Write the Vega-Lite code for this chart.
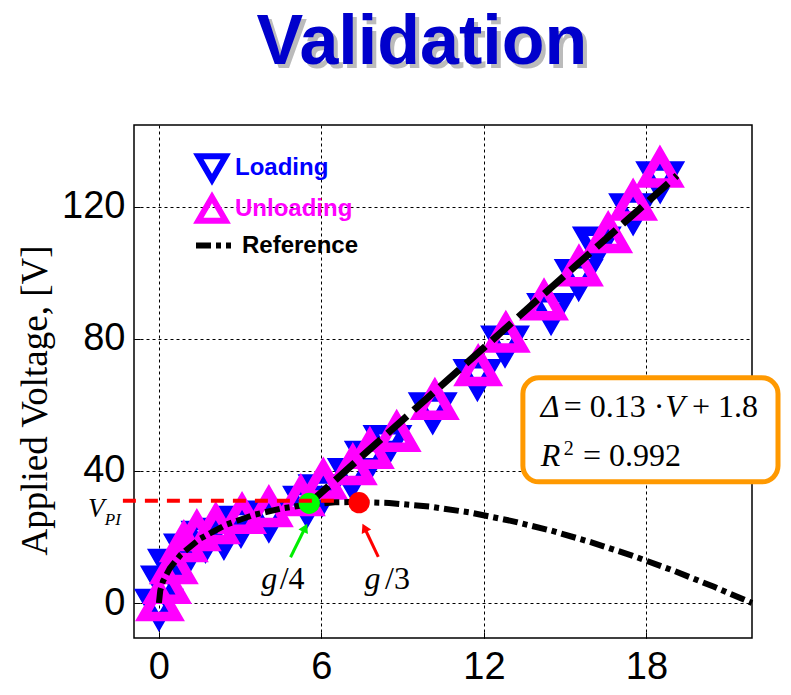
{
  "$schema": "https://vega.github.io/schema/vega-lite/v6.json",
  "width": 618,
  "height": 513,
  "autosize": {"type": "none"},
  "padding": {"left": 134, "top": 125, "right": 39, "bottom": 57},
  "background": "white",
  "config": {
    "view": {"stroke": "black", "strokeWidth": 1.5},
    "axis": {
      "grid": true, "gridColor": "black", "gridDash": [3, 3], "gridWidth": 1, "gridOpacity": 1,
      "domain": false, "ticks": true, "tickColor": "black", "tickSize": -6, "tickWidth": 1,
      "labelFont": "Liberation Sans", "labelFontSize": 38, "labelColor": "black"
    }
  },
  "datasets": {
    "meas": [
      {"series": "Loading", "d": 0.0, "v": -1.5},
      {"series": "Loading", "d": 0.22, "v": 5.5},
      {"series": "Loading", "d": 0.48, "v": 10.6},
      {"series": "Loading", "d": 1.07, "v": 15.2},
      {"series": "Loading", "d": 1.72, "v": 19.1},
      {"series": "Loading", "d": 2.4, "v": 20.0},
      {"series": "Loading", "d": 3.03, "v": 23.6},
      {"series": "Loading", "d": 4.06, "v": 25.2},
      {"series": "Loading", "d": 5.47, "v": 29.7},
      {"series": "Loading", "d": 6.04, "v": 33.2},
      {"series": "Loading", "d": 7.12, "v": 38.1},
      {"series": "Loading", "d": 7.75, "v": 43.3},
      {"series": "Loading", "d": 8.44, "v": 48.1},
      {"series": "Loading", "d": 10.11, "v": 58.0},
      {"series": "Loading", "d": 11.76, "v": 68.1},
      {"series": "Loading", "d": 12.78, "v": 78.2},
      {"series": "Loading", "d": 14.48, "v": 88.1},
      {"series": "Loading", "d": 15.5, "v": 98.4},
      {"series": "Loading", "d": 16.17, "v": 108.2},
      {"series": "Loading", "d": 17.51, "v": 118.3},
      {"series": "Loading", "d": 18.51, "v": 128.0},
      {"series": "Unloading", "d": 0.04, "v": 0.3},
      {"series": "Unloading", "d": 0.3, "v": 5.5},
      {"series": "Unloading", "d": 0.55, "v": 11.5},
      {"series": "Unloading", "d": 0.92, "v": 18.2},
      {"series": "Unloading", "d": 1.4, "v": 21.5},
      {"series": "Unloading", "d": 2.1, "v": 23.6},
      {"series": "Unloading", "d": 3.07, "v": 26.7},
      {"series": "Unloading", "d": 4.06, "v": 28.8},
      {"series": "Unloading", "d": 5.24, "v": 32.1},
      {"series": "Unloading", "d": 6.07, "v": 37.1},
      {"series": "Unloading", "d": 7.16, "v": 41.5},
      {"series": "Unloading", "d": 7.79, "v": 46.4},
      {"series": "Unloading", "d": 8.78, "v": 51.6},
      {"series": "Unloading", "d": 10.19, "v": 61.3},
      {"series": "Unloading", "d": 11.79, "v": 71.5},
      {"series": "Unloading", "d": 12.81, "v": 81.6},
      {"series": "Unloading", "d": 14.22, "v": 91.4},
      {"series": "Unloading", "d": 15.51, "v": 101.7},
      {"series": "Unloading", "d": 16.59, "v": 111.8},
      {"series": "Unloading", "d": 17.51, "v": 121.6},
      {"series": "Unloading", "d": 18.5, "v": 131.6}
    ],
    "ref": [
      {"name": "Reference", "d": 0.0, "v": 0.0},
      {"name": "Reference", "d": 0.05, "v": 3.8},
      {"name": "Reference", "d": 0.15, "v": 6.6},
      {"name": "Reference", "d": 0.4, "v": 10.5},
      {"name": "Reference", "d": 0.8, "v": 14.6},
      {"name": "Reference", "d": 1.5, "v": 19.4},
      {"name": "Reference", "d": 2.5, "v": 23.8},
      {"name": "Reference", "d": 3.5, "v": 26.7},
      {"name": "Reference", "d": 4.5, "v": 28.6},
      {"name": "Reference", "d": 5.5, "v": 29.8},
      {"name": "Reference", "d": 6.5, "v": 30.5},
      {"name": "Reference", "d": 7.3, "v": 30.6},
      {"name": "Reference", "d": 8.5, "v": 30.3},
      {"name": "Reference", "d": 10.0, "v": 29.2},
      {"name": "Reference", "d": 11.5, "v": 27.4},
      {"name": "Reference", "d": 13.0, "v": 24.9},
      {"name": "Reference", "d": 14.5, "v": 21.9},
      {"name": "Reference", "d": 16.0, "v": 18.3},
      {"name": "Reference", "d": 17.5, "v": 14.3},
      {"name": "Reference", "d": 19.0, "v": 9.8},
      {"name": "Reference", "d": 20.5, "v": 4.9},
      {"name": "Reference", "d": 21.9, "v": 0.0}
    ],
    "fit": [
      {"d": 5.55, "v": 30.2},
      {"d": 19.13, "v": 129.5}
    ]
  },
  "encoding": {
    "x": {
      "field": "d", "type": "quantitative",
      "scale": {"domain": [-0.92, 21.9], "nice": false, "zero": false},
      "axis": {"values": [0, 6, 12, 18], "title": null, "labelPadding": 16}
    },
    "y": {
      "field": "v", "type": "quantitative",
      "scale": {"domain": [-10.6, 144.8], "nice": false, "zero": false},
      "axis": {
        "values": [0, 40, 80, 120], "labelPadding": 15,
        "title": "Applied Voltage, [V]", "titleFont": "Liberation Serif", "titleFontSize": 37,
        "titleFontWeight": "normal", "titleColor": "black",
        "titleX": -99, "titleY": 275, "titleAngle": -90, "titleAlign": "center", "titleBaseline": "middle"
      }
    }
  },
  "layer": [
    {
      "data": {"name": "meas"},
      "mark": {"type": "point", "filled": false, "size": 1120, "strokeWidth": 9.5, "opacity": 1},
      "encoding": {
        "color": {
          "field": "series", "type": "nominal",
          "scale": {"domain": ["Loading", "Unloading"], "range": ["#0000FF", "#FF00FF"]},
          "legend": {
            "title": null, "orient": "none", "legendX": 61, "legendY": 26, "padding": 0,
            "symbolSize": 750, "symbolStrokeWidth": 6, "symbolOpacity": 1,
            "labelFont": "Liberation Sans", "labelFontWeight": "bold", "labelFontSize": 24,
            "labelColor": {"expr": "datum.value === 'Loading' ? '#0000FF' : '#FF00FF'"},
            "labelOffset": 6, "rowPadding": -11
          }
        },
        "shape": {
          "field": "series", "type": "nominal",
          "scale": {"domain": ["Loading", "Unloading"], "range": ["triangle-down", "triangle-up"]},
          "legend": {
            "title": null, "orient": "none", "legendX": 61, "legendY": 26, "padding": 0,
            "symbolSize": 750, "symbolStrokeWidth": 6, "symbolOpacity": 1,
            "labelFont": "Liberation Sans", "labelFontWeight": "bold", "labelFontSize": 24,
            "labelColor": {"expr": "datum.value === 'Loading' ? '#0000FF' : '#FF00FF'"},
            "labelOffset": 6, "rowPadding": -11
          }
        }
      }
    },
    {
      "data": {"name": "ref"},
      "mark": {"type": "line", "color": "black", "strokeWidth": 6},
      "encoding": {
        "strokeDash": {
          "field": "name", "type": "nominal",
          "scale": {"domain": ["Reference"], "range": [[15, 5, 5, 5]]},
          "legend": {
            "title": null, "orient": "none", "legendX": 59, "legendY": 100, "padding": 0,
            "symbolType": "stroke", "symbolSize": 1225, "symbolStrokeWidth": 6, "symbolStrokeColor": "black",
            "labelFont": "Liberation Sans", "labelFontWeight": "bold", "labelFontSize": 24,
            "labelColor": "black", "labelOffset": 8
          }
        }
      }
    },
    {
      "data": {"name": "fit"},
      "mark": {"type": "line", "color": "black", "strokeWidth": 7, "strokeDash": [26, 9]},
      "encoding": {}
    },
    {
      "data": {"values": [{"d": 5.55, "v": 30.2}]},
      "mark": {"type": "circle", "color": "#00FF00", "size": 452, "opacity": 1},
      "encoding": {}
    },
    {
      "data": {"values": [{"d": 7.39, "v": 30.4}]},
      "mark": {"type": "circle", "color": "#FF0000", "size": 452, "opacity": 1},
      "encoding": {}
    },
    {
      "data": {"values": [{"d": -1.33, "d2": 6.68, "v": 31.0}]},
      "mark": {"type": "rule", "color": "#FF0000", "strokeWidth": 4, "strokeDash": [13, 9]},
      "encoding": {"x2": {"field": "d2"}}
    },
    {
      "data": {"values": [{"d": 4.86, "v": 13.85, "d2": 5.4, "v2": 22.8}]},
      "mark": {"type": "rule", "color": "#00EE00", "strokeWidth": 3},
      "encoding": {"x2": {"field": "d2"}, "y2": {"field": "v2"}}
    },
    {
      "data": {"values": [{"d": 5.4, "v": 22.8}]},
      "mark": {"type": "point", "shape": "triangle-up", "filled": true, "color": "#00EE00", "size": 110, "angle": 26, "opacity": 1},
      "encoding": {}
    },
    {
      "data": {"values": [{"d": 8.1, "v": 14.0, "d2": 7.59, "v2": 22.8}]},
      "mark": {"type": "rule", "color": "#FF0000", "strokeWidth": 3},
      "encoding": {"x2": {"field": "d2"}, "y2": {"field": "v2"}}
    },
    {
      "data": {"values": [{"d": 7.59, "v": 22.8}]},
      "mark": {"type": "point", "shape": "triangle-up", "filled": true, "color": "#FF0000", "size": 110, "angle": -26, "opacity": 1},
      "encoding": {}
    },
    {
      "data": {"values": [{"d": 13.44, "d2": 22.86, "v": 68.2, "v2": 36.7}]},
      "mark": {"type": "rect", "fill": "white", "stroke": "#FF9900", "strokeWidth": 5, "cornerRadius": 16},
      "encoding": {"x2": {"field": "d2"}, "y2": {"field": "v2"}}
    },
    {
      "data": {"values": [
        {"t": "Δ", "d": 14.1, "v": 56.4},
        {"t": "V", "d": 18.7, "v": 56.4},
        {"t": "R", "d": 14.1, "v": 41.5}
      ]},
      "mark": {"type": "text", "font": "Liberation Serif", "fontStyle": "italic", "fontSize": 32, "align": "left", "baseline": "alphabetic", "color": "black"},
      "encoding": {"text": {"field": "t"}}
    },
    {
      "data": {"values": [
        {"t": "= 0.13 ·", "d": 14.95, "v": 56.4},
        {"t": "+ 1.8", "d": 19.68, "v": 56.4},
        {"t": "= 0.992", "d": 15.66, "v": 41.5}
      ]},
      "mark": {"type": "text", "font": "Liberation Serif", "fontSize": 32, "align": "left", "baseline": "alphabetic", "color": "black"},
      "encoding": {"text": {"field": "t"}}
    },
    {
      "data": {"values": [{"t": "2", "d": 14.95, "v": 44.8}]},
      "mark": {"type": "text", "font": "Liberation Serif", "fontSize": 20, "align": "left", "baseline": "alphabetic", "color": "black"},
      "encoding": {"text": {"field": "t"}}
    },
    {
      "data": {"values": [
        {"t": "g", "d": 3.78, "v": 4.1},
        {"t": "g", "d": 7.59, "v": 4.1}
      ]},
      "mark": {"type": "text", "font": "Liberation Serif", "fontStyle": "italic", "fontSize": 32, "align": "left", "baseline": "alphabetic", "color": "black"},
      "encoding": {"text": {"field": "t"}}
    },
    {
      "data": {"values": [
        {"t": "/4", "d": 4.46, "v": 4.1},
        {"t": "/3", "d": 8.35, "v": 4.1}
      ]},
      "mark": {"type": "text", "font": "Liberation Serif", "fontSize": 32, "align": "left", "baseline": "alphabetic", "color": "black"},
      "encoding": {"text": {"field": "t"}}
    },
    {
      "data": {"values": [{"t": "V", "d": -2.62, "v": 26.1}]},
      "mark": {"type": "text", "font": "Liberation Serif", "fontStyle": "italic", "fontSize": 27, "align": "left", "baseline": "alphabetic", "color": "black"},
      "encoding": {"text": {"field": "t"}}
    },
    {
      "data": {"values": [{"t": "PI", "d": -2.0, "v": 23.6}]},
      "mark": {"type": "text", "font": "Liberation Serif", "fontStyle": "italic", "fontSize": 17, "align": "left", "baseline": "alphabetic", "color": "black"},
      "encoding": {"text": {"field": "t"}}
    },
    {
      "data": {"values": [{"t": "Validation", "d": 9.71, "v": 163.3}]},
      "mark": {"type": "text", "font": "Liberation Sans", "fontWeight": "bold", "fontSize": 70, "align": "center", "baseline": "alphabetic", "color": "#BBBBBB", "dx": 4, "dy": 4},
      "encoding": {"text": {"field": "t"}}
    },
    {
      "data": {"values": [{"t": "Validation", "d": 9.71, "v": 163.3}]},
      "mark": {"type": "text", "font": "Liberation Sans", "fontWeight": "bold", "fontSize": 70, "align": "center", "baseline": "alphabetic", "color": "#0000CC"},
      "encoding": {"text": {"field": "t"}}
    }
  ]
}
